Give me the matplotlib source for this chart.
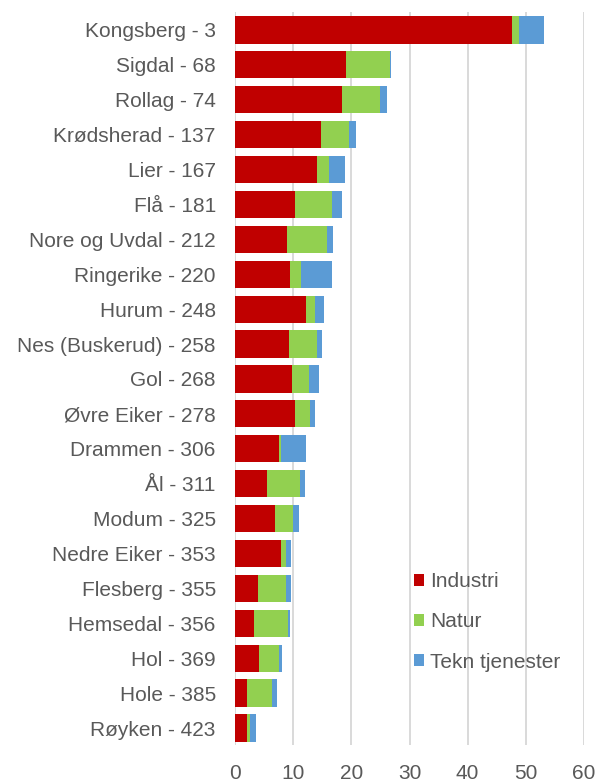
import matplotlib
matplotlib.use("Agg")
import matplotlib.pyplot as plt
import numpy as np

plt.rcParams['font.family'] = ['Liberation Sans', 'DejaVu Sans']

kommuner = ["Kongsberg - 3", "Sigdal - 68", "Rollag - 74", "Krødsherad - 137", "Lier - 167",
            "Flå - 181", "Nore og Uvdal - 212", "Ringerike - 220", "Hurum - 248",
            "Nes (Buskerud) - 258", "Gol - 268", "Øvre Eiker - 278", "Drammen - 306",
            "Ål - 311", "Modum - 325", "Nedre Eiker - 353", "Flesberg - 355",
            "Hemsedal - 356", "Hol - 369", "Hole - 385", "Røyken - 423"]
industri = [47.6, 19.1, 18.4, 14.7, 14.1, 10.3, 8.85, 9.4, 12.1, 9.3, 9.8, 10.3, 7.6,
            5.5, 6.8, 7.9, 3.85, 3.2, 4.1, 2.1, 2.0]
natur = [1.3, 7.6, 6.5, 4.8, 2.0, 6.4, 7.0, 2.0, 1.7, 4.8, 2.9, 2.5, 0.2,
         5.7, 3.2, 0.8, 4.9, 5.8, 3.4, 4.2, 0.5]
tekn = [4.3, 0.15, 1.3, 1.2, 2.8, 1.7, 1.0, 5.2, 1.5, 0.8, 1.7, 0.9, 4.4,
        0.75, 1.0, 0.9, 0.8, 0.4, 0.6, 0.9, 1.0]
xticks = [0, 10, 20, 30, 40, 50, 60]

txt = '#595959'
fs = 15
fig = plt.figure(figsize=(5.97, 7.81), dpi=100)
ax = fig.add_axes([0.394, 0.0455, 0.584, 0.9385])

y = np.arange(len(kommuner))
ind = np.array(industri)
nat = np.array(natur)
tek = np.array(tekn)
h = 0.78
ax.barh(y, ind, height=h, color='#C00000', label='Industri', zorder=3)
ax.barh(y, nat, left=ind, height=h, color='#92D050', label='Natur', zorder=3)
ax.barh(y, tek, left=ind + nat, height=h, color='#5B9BD5', label='Tekn tjenester', zorder=3)

ax.set_ylim(len(kommuner) - 0.5, -0.5)
ax.set_xlim(0, 60)
ax.set_xticks(xticks)
ax.set_yticks(y)
ax.set_yticklabels(kommuner)
ax.tick_params(axis='both', length=0, labelsize=fs, colors=txt)
ax.tick_params(axis='y', pad=14)
ax.tick_params(axis='x', pad=13)
for s in ax.spines.values():
    s.set_visible(False)
ax.grid(axis='x', color='#D9D9D9', linewidth=1.4, zorder=0)
ax.set_axisbelow(True)

leg = fig.legend(loc='upper left', bbox_to_anchor=(0.693, 1 - 572 / 781), frameon=False,
                 fontsize=fs, handlelength=0.5, handleheight=0.5, handletextpad=0.3,
                 labelspacing=1.02, borderpad=0, borderaxespad=0)
for t in leg.get_texts():
    t.set_color(txt)

fig.savefig('out.png', dpi=100)
